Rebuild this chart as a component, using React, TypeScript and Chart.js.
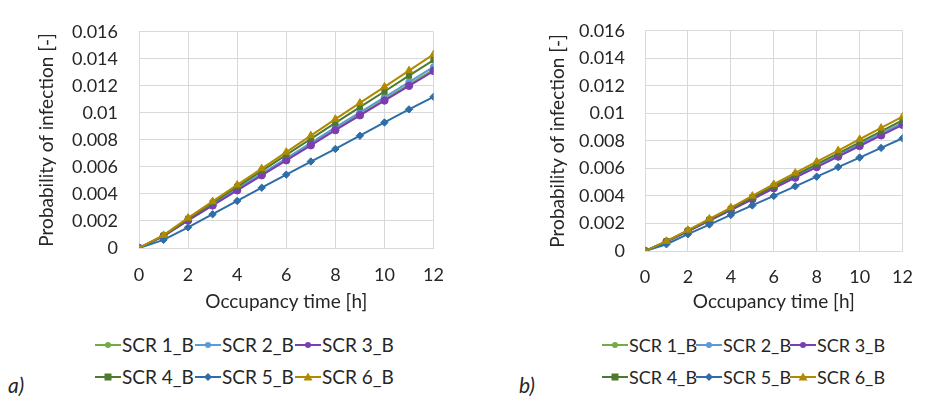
import React, { useEffect, useRef } from 'react';
import { Chart, registerables } from 'chart.js';

Chart.register(...registerables);

const hours = [0, 1, 2, 3, 4, 5, 6, 7, 8, 9, 10, 11, 12];
const seriesNames = ['SCR 1_B', 'SCR 2_B', 'SCR 3_B', 'SCR 4_B', 'SCR 5_B', 'SCR 6_B'];
const seriesColors = ['#70AD47', '#5B9BD5', '#7B3DB0', '#4E7A30', '#2E6DA8', '#B08A00'];
const pointStyles = ['circle', 'circle', 'circle', 'rect', 'rectRot', 'triangle'];
const pointRadii = [3.2, 3.2, 3.7, 3.7, 3.7, 4.3];
const yTickLabels = ['0', '0.002', '0.004', '0.006', '0.008', '0.01', '0.012', '0.014', '0.016'];
const xTickLabels = ['0', '2', '4', '6', '8', '10', '12'];
const xTitle = 'Occupancy time [h]';
const yTitle = 'Probability of infection [-]';

// Panel a)
const scr1A = [0, 0.00088, 0.00205, 0.00318, 0.0043, 0.00542, 0.00654, 0.00766, 0.00879, 0.00989, 0.01099, 0.0121, 0.0132];
const scr2A = [0, 0.00089, 0.00208, 0.00323, 0.00437, 0.0055, 0.00664, 0.00778, 0.00892, 0.01004, 0.01115, 0.01228, 0.0134];
const scr3A = [0, 0.00087, 0.00204, 0.00315, 0.00427, 0.00538, 0.00649, 0.0076, 0.00872, 0.00982, 0.01091, 0.012, 0.0131];
const scr4A = [0, 0.00092, 0.00216, 0.00335, 0.00453, 0.00571, 0.00689, 0.00808, 0.00926, 0.01043, 0.01158, 0.01275, 0.01391];
const scr5A = [0, 0.0006, 0.00153, 0.0025, 0.00348, 0.00446, 0.00543, 0.0064, 0.00733, 0.00831, 0.00929, 0.01026, 0.01119];
const scr6A = [0, 0.00095, 0.00223, 0.00345, 0.00467, 0.00588, 0.0071, 0.00832, 0.00954, 0.01074, 0.01193, 0.01313, 0.01433];

// Panel b)
const scr1B = [0, 0.00068, 0.00144, 0.00221, 0.00299, 0.00378, 0.00458, 0.00536, 0.00614, 0.0069, 0.00767, 0.00844, 0.0092];
const scr2B = [0, 0.00069, 0.00145, 0.00223, 0.00301, 0.00381, 0.00462, 0.0054, 0.00618, 0.00696, 0.00774, 0.00852, 0.0093];
const scr3B = [0, 0.00068, 0.00143, 0.0022, 0.00297, 0.00376, 0.00456, 0.00533, 0.0061, 0.00686, 0.00763, 0.0084, 0.00917];
const scr4B = [0, 0.0007, 0.00148, 0.00228, 0.00307, 0.00389, 0.00472, 0.00552, 0.00631, 0.0071, 0.0079, 0.0087, 0.0095];
const scr5B = [0, 0.00049, 0.00122, 0.00192, 0.00262, 0.00331, 0.004, 0.0047, 0.0054, 0.0061, 0.00679, 0.00749, 0.00819];
const scr6B = [0, 0.00072, 0.00152, 0.00234, 0.00316, 0.004, 0.00485, 0.00567, 0.00649, 0.0073, 0.00812, 0.00894, 0.00976];

const FONT = 'Lato, "Open Sans", sans-serif';
const TEXT = '#262626';
const GRID = '#D9D9D9';

type Geom = {
  padLeft: number; padTop: number; padRight: number; padBottom: number;
  yWidth: number; xHeight: number; yTickPad: number; xTickPad: number; fontSize: number; titleSize: number;
};

function makeConfig(series: number[][], g: Geom): any {
  const font = { family: FONT, size: g.fontSize };
  const titleFont = { family: FONT, size: g.titleSize };
  return {
    type: 'line',
    data: {
      datasets: series.map((vals, i) => ({
        label: seriesNames[i],
        data: hours.map((h, j) => ({ x: h, y: vals[j] })),
        borderColor: seriesColors[i],
        backgroundColor: seriesColors[i],
        borderWidth: 2,
        pointStyle: pointStyles[i],
        pointRadius: pointRadii[i],
        pointBorderWidth: 1,
        pointHoverRadius: pointRadii[i],
        tension: 0,
        fill: false,
        order: 5 - i,
      })),
    },
    options: {
      animation: false,
      responsive: false,
      maintainAspectRatio: false,
      events: [],
      layout: { padding: { left: g.padLeft, top: g.padTop, right: g.padRight, bottom: g.padBottom } },
      plugins: { legend: { display: false }, tooltip: { enabled: false } },
      scales: {
        x: {
          type: 'linear',
          min: 0,
          max: 12,
          ticks: {
            stepSize: 2,
            padding: g.xTickPad,
            color: TEXT,
            font,
            maxRotation: 0,
            callback: (v: number) => xTickLabels[Math.round(v / 2)] ?? '',
          },
          grid: { color: GRID, lineWidth: 1, drawTicks: false },
          border: { display: true, color: GRID, width: 1 },
          title: { display: true, text: xTitle, color: TEXT, font: titleFont, padding: 0 },
          afterFit: (s: any) => { s.height = g.xHeight; },
        },
        y: {
          type: 'linear',
          min: 0,
          max: 0.016,
          ticks: {
            stepSize: 0.002,
            padding: g.yTickPad,
            color: TEXT,
            font,
            callback: (v: number) => yTickLabels[Math.round(v / 0.002)] ?? '',
          },
          grid: { color: GRID, lineWidth: 1, drawTicks: false },
          border: { display: true, color: GRID, width: 1 },
          title: { display: true, text: yTitle, color: TEXT, font: titleFont, padding: 0 },
          afterFit: (s: any) => { s.width = g.yWidth; },
        },
      },
    },
  };
}

function Marker({ style, color }: { style: string; color: string }) {
  const cx = 13, cy = 7;
  let m: any = null;
  if (style === 'circle') m = <circle cx={cx} cy={cy} r={3} fill={color} />;
  else if (style === 'rect') m = <rect x={cx - 3.5} y={cy - 3.5} width={7} height={7} fill={color} />;
  else if (style === 'rectRot') m = <polygon points={`${cx},${cy - 4} ${cx + 4},${cy} ${cx},${cy + 4} ${cx - 4},${cy}`} fill={color} />;
  else m = <polygon points={`${cx},${cy - 4.5} ${cx + 4.5},${cy + 3.5} ${cx - 4.5},${cy + 3.5}`} fill={color} />;
  return (
    <svg width={26} height={14} style={{ display: 'block', flex: 'none' }}>
      <line x1={0} y1={cy} x2={26} y2={cy} stroke={color} strokeWidth={2} />
      {m}
    </svg>
  );
}

function Legend({ left, itemWidth, fontSize }: { left: number; itemWidth: number; fontSize: number }) {
  const rows = [[0, 1, 2], [3, 4, 5]];
  const rowY = [345, 377];
  return (
    <>
      {rows.map((row, r) => (
        <div key={r} style={{ position: 'absolute', left, top: rowY[r] - 12, height: 24, display: 'flex', alignItems: 'center' }}>
          {row.map((i) => (
            <div key={i} style={{ width: itemWidth, display: 'flex', alignItems: 'center' }}>
              <Marker style={pointStyles[i]} color={seriesColors[i]} />
              <span style={{ fontFamily: FONT, fontSize, color: TEXT, marginLeft: 1, whiteSpace: 'nowrap', lineHeight: '24px' }}>
                {seriesNames[i]}
              </span>
            </div>
          ))}
        </div>
      ))}
    </>
  );
}

export default function App() {
  const refA = useRef<HTMLCanvasElement>(null);
  const refB = useRef<HTMLCanvasElement>(null);

  useEffect(() => {
    const geomA: Geom = { padLeft: 35, padTop: 18, padRight: 25, padBottom: 7, yWidth: 104, xHeight: 65, yTickPad: 21, xTickPad: 16, fontSize: 18, titleSize: 19 };
    const geomB: Geom = { padLeft: 78, padTop: 23, padRight: 12, padBottom: 7, yWidth: 99, xHeight: 62, yTickPad: 20, xTickPad: 15, fontSize: 18, titleSize: 19 };
    const a = new Chart(refA.current as HTMLCanvasElement, makeConfig([scr1A, scr2A, scr3A, scr4A, scr5A, scr6A], geomA));
    const b = new Chart(refB.current as HTMLCanvasElement, makeConfig([scr1B, scr2B, scr3B, scr4B, scr5B, scr6B], geomB));
    return () => { a.destroy(); b.destroy(); };
  }, []);

  return (
    <div style={{ position: 'fixed', left: 0, top: 0, width: 928, height: 398, background: '#fff', overflow: 'hidden' }}>
      <canvas ref={refA} width={460} height={320} style={{ position: 'absolute', left: 0, top: 0, width: 460, height: 320 }} />
      <canvas ref={refB} width={460} height={320} style={{ position: 'absolute', left: 468, top: 0, width: 460, height: 320 }} />
      <Legend left={95} itemWidth={100} fontSize={19} />
      <Legend left={602} itemWidth={94} fontSize={18} />
      <div style={{ position: 'absolute', left: 8, top: 373, fontFamily: FONT, fontStyle: 'italic', fontSize: 21, color: TEXT, lineHeight: '24px' }}>a)</div>
      <div style={{ position: 'absolute', left: 519, top: 373, fontFamily: FONT, fontStyle: 'italic', fontSize: 21, color: TEXT, lineHeight: '24px' }}>b)</div>
    </div>
  );
}
